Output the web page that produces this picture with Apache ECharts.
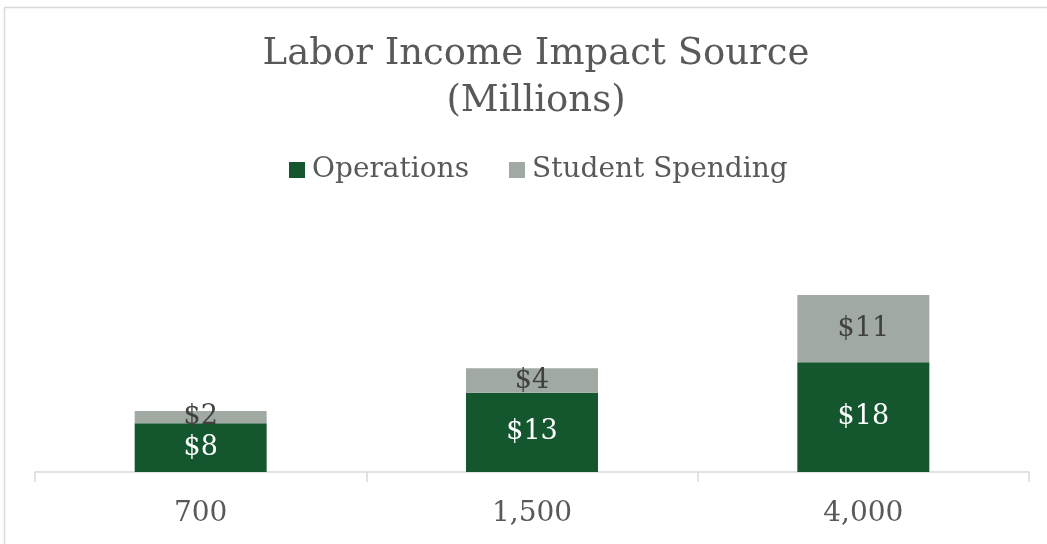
<!DOCTYPE html>
<html>
<head>
<meta charset="utf-8">
<title>Labor Income Impact Source</title>
<script src="https://cdn.jsdelivr.net/npm/echarts@6/dist/echarts.min.js"></script>
<style>
  html, body { margin: 0; padding: 0; background: #ffffff; }
  #chart { width: 1047px; height: 544px; }
</style>
</head>
<body>
<div id="chart"></div>
<script>
// Labor income impact by enrollment level, in millions of dollars
const categories = ['700', '1,500', '4,000'];
const operations = [8, 13, 18];
const studentSpending = [2, 4, 11];
const seriesNames = ['Operations', 'Student Spending'];

const FONT = '"DejaVu Serif", Georgia, serif';
const GREEN = '#14572f';
const GRAY = '#a1aaa2';

const chart = echarts.init(document.getElementById('chart'), null, { renderer: 'canvas' });

chart.setOption({
  backgroundColor: '#ffffff',
  animation: false,
  title: {
    text: 'Labor Income Impact Source\n(Millions)',
    left: 531,
    top: 26,
    textAlign: 'center',
    textStyle: {
      fontFamily: FONT,
      fontSize: 37,
      fontWeight: 'normal',
      color: '#595959',
      lineHeight: 47
    }
  },
  legend: {
    top: 151,
    left: 284,
    icon: 'rect',
    itemWidth: 16,
    itemHeight: 16,
    itemGap: 40,
    data: seriesNames,
    textStyle: {
      fontFamily: FONT,
      fontSize: 28,
      color: '#595959',
      padding: [0, 0, 0, 2]
    }
  },
  grid: {
    left: 35,
    right: 18,
    top: 228,
    bottom: 72,
    containLabel: false
  },
  xAxis: {
    type: 'category',
    data: categories,
    axisLine: { lineStyle: { color: '#d9d9d9', width: 1.5 } },
    axisTick: { show: true, length: 10, lineStyle: { color: '#d9d9d9', width: 1.5 } },
    axisLabel: {
      fontFamily: FONT,
      fontSize: 28,
      color: '#595959',
      margin: 28
    }
  },
  yAxis: {
    type: 'value',
    min: 0,
    max: 40,
    show: false,
    splitLine: { show: false }
  },
  series: [
    {
      name: seriesNames[0],
      type: 'bar',
      stack: 'total',
      data: operations,
      barWidth: 132,
      itemStyle: { color: GREEN },
      label: {
        show: true,
        position: 'inside',
        formatter: p => '$' + p.value,
        fontFamily: FONT,
        fontSize: 27,
        color: '#ffffff'
      }
    },
    {
      name: seriesNames[1],
      type: 'bar',
      stack: 'total',
      data: studentSpending,
      barWidth: 132,
      itemStyle: { color: GRAY },
      label: {
        show: true,
        position: 'inside',
        formatter: p => '$' + p.value,
        fontFamily: FONT,
        fontSize: 27,
        color: '#404040'
      }
    }
  ],
  graphic: [
    {
      type: 'rect',
      silent: true,
      shape: { x: 4.5, y: 7.5, width: 1100, height: 600 },
      style: { fill: null, stroke: '#d9d9d9', lineWidth: 1.5 }
    }
  ]
});
</script>
</body>
</html>
